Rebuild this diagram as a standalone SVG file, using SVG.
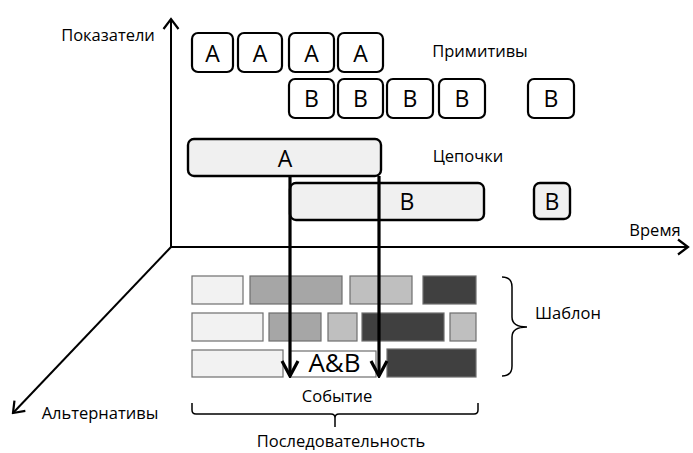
<svg xmlns="http://www.w3.org/2000/svg" width="693" height="453" viewBox="0 0 693 453">
  <style>
    text { font-family: "Open Sans", "Noto Sans", "Liberation Sans", sans-serif; fill: #000; }
    .lbl { font-size: 16.5px; text-anchor: middle; }
    .big { font-size: 23px; text-anchor: middle; }
    .prim { fill: #fff; stroke: #000; stroke-width: 2.2; }
    .chain { fill: #f0f0f0; stroke: #000; stroke-width: 2.4; }
    .axis { fill: none; stroke: #000; stroke-width: 2; }
    .flow { fill: none; stroke: #000; stroke-width: 3.2; }
    .blk { stroke: #6e6e6e; stroke-width: 1.2; }
    .c1 { fill: #f2f2f2; }
    .c2 { fill: #a6a6a6; }
    .c3 { fill: #bfbfbf; }
    .c4 { fill: #404040; }
    .brace { fill: none; stroke: #000; stroke-width: 1.5; }
  </style>
  <defs>
    <marker id="axisHead" viewBox="-12 -9 14 18" markerWidth="14" markerHeight="18" refX="0" refY="0" orient="auto" markerUnits="userSpaceOnUse">
      <path d="M-10,-7.5 L0,0 L-10,7.5" fill="none" stroke="#000" stroke-width="2.2"/>
    </marker>
    <marker id="flowHead" viewBox="-20 -10 22 20" markerWidth="22" markerHeight="20" refX="0" refY="0" orient="auto" markerUnits="userSpaceOnUse">
      <path d="M-15,-8 L0,0 L-15,8" fill="none" stroke="#000" stroke-width="3.2"/>
    </marker>
  </defs>

  <!-- axes -->
  <g id="axes">
    <path class="axis" d="M171,247 L171,19" marker-end="url(#axisHead)"/>
    <path class="axis" d="M171,247 L688,247" marker-end="url(#axisHead)"/>
    <path class="axis" d="M171,247 L13,413" marker-end="url(#axisHead)"/>
    <text class="lbl" x="108" y="41">Показатели</text>
    <text class="lbl" x="655" y="236">Время</text>
    <text class="lbl" x="100" y="419">Альтернативы</text>
  </g>

  <!-- primitives -->
  <g id="primitives">
    <rect class="prim" x="192" y="33" width="41" height="39" rx="6"/>
    <text class="big" x="212.5" y="62">A</text>
    <rect class="prim" x="238" y="33" width="44" height="39" rx="6"/>
    <text class="big" x="260" y="62">A</text>
    <rect class="prim" x="289" y="33" width="45" height="39" rx="6"/>
    <text class="big" x="311.5" y="62">A</text>
    <rect class="prim" x="338" y="33" width="45" height="39" rx="6"/>
    <text class="big" x="360.5" y="62">A</text>

    <rect class="prim" x="289" y="79" width="45" height="39" rx="6"/>
    <text class="big" x="311.5" y="107">B</text>
    <rect class="prim" x="338" y="79" width="45" height="39" rx="6"/>
    <text class="big" x="360.5" y="107">B</text>
    <rect class="prim" x="387" y="79" width="46" height="39" rx="6"/>
    <text class="big" x="410" y="107">B</text>
    <rect class="prim" x="439" y="79" width="46" height="39" rx="6"/>
    <text class="big" x="462" y="107">B</text>
    <rect class="prim" x="528" y="79" width="46" height="39" rx="6"/>
    <text class="big" x="551" y="107">B</text>

    <text class="lbl" x="480" y="57">Примитивы</text>
  </g>

  <!-- chains -->
  <g id="chains">
    <rect class="chain" x="188" y="139" width="193" height="37" rx="6"/>
    <text class="big" x="285" y="167">A</text>
    <rect class="chain" x="290" y="183" width="194" height="37" rx="6"/>
    <text class="big" x="407" y="210">B</text>
    <rect class="chain" x="534" y="183" width="36" height="36" rx="6"/>
    <text class="big" x="552" y="210">B</text>
    <text class="lbl" x="468" y="162">Цепочки</text>
  </g>

  <!-- pattern rows -->
  <g id="pattern">
    <rect class="blk c1" x="192" y="276" width="51" height="28"/>
    <rect class="blk c2" x="250" y="276" width="92" height="28"/>
    <rect class="blk c3" x="350" y="276" width="62" height="28"/>
    <rect class="blk c4" x="423" y="276" width="53" height="28"/>

    <rect class="blk c1" x="192" y="313" width="71" height="28"/>
    <rect class="blk c2" x="269" y="313" width="52" height="28"/>
    <rect class="blk c3" x="328" y="313" width="29" height="28"/>
    <rect class="blk c4" x="362" y="313" width="82" height="28"/>
    <rect class="blk c3" x="450" y="313" width="26" height="28"/>

    <rect class="blk c1" x="192" y="350" width="91" height="27"/>
    <rect class="blk c4" x="387" y="349" width="89" height="28"/>

    <path class="brace" d="M502,277 Q512,277 512,287 L512,317 Q512,327 527,327 Q512,327 512,337 L512,366 Q512,376 502,376"/>
    <text class="lbl" x="568" y="319">Шаблон</text>
  </g>

  <!-- event -->
  <g id="event">
    <rect x="290" y="351" width="86" height="26" fill="#fff" stroke="#6e6e6e" stroke-width="1.2"/>
    <text class="big" x="334.5" y="372" style="font-size:26px">A&amp;B</text>
    <text class="lbl" x="337" y="402">Событие</text>
  </g>

  <!-- sequence -->
  <g id="sequence">
    <path class="brace" d="M192,403 L192,410 Q192,414 196,414 L331,414 Q335,414 335,418 L335,427 M335,418 Q335,414 339,414 L474,414 Q478,414 478,410 L478,403"/>
    <text class="lbl" x="341" y="447">Последовательность</text>
  </g>

  <!-- connectors -->
  <g id="connectors">
    <path class="flow" d="M290,176 L290,376" marker-end="url(#flowHead)"/>
    <path class="flow" d="M379,176 L379,376" marker-end="url(#flowHead)"/>
  </g>
</svg>
